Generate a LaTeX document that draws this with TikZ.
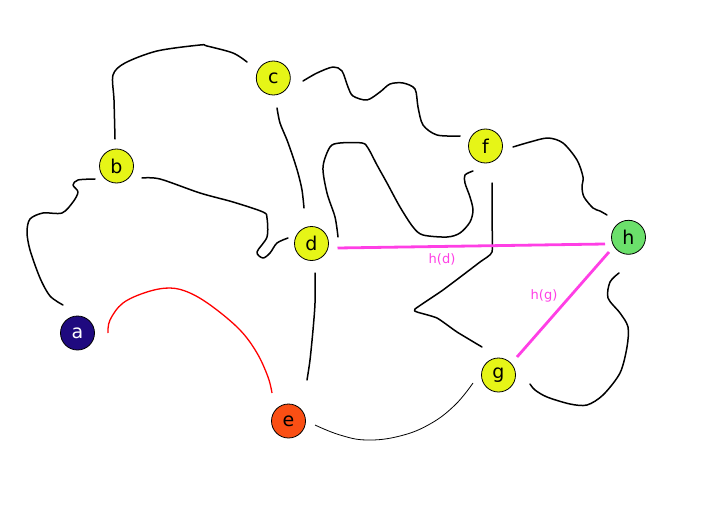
\documentclass[tikz,border=0pt]{standalone}
\usepackage{fontspec}
\setmainfont{DejaVu Sans}
\definecolor{ylw}{HTML}{E6F517}
\definecolor{navy}{HTML}{1F0A7F}
\definecolor{orng}{HTML}{FA4F14}
\definecolor{grn}{HTML}{6BE06B}
\definecolor{mag}{HTML}{FF3FE5}
\begin{document}
\begin{tikzpicture}[x=1pt,y=-1pt,
  vtx/.style={circle,draw=black,line width=0.8pt,minimum size=34pt,inner sep=0pt,fill=ylw,font=\fontsize{19}{19}\selectfont},
  wig/.style={line width=1.5pt,line cap=round,line join=round},
  hl/.style={mag,line width=2.8pt},
  hlab/.style={mag,font=\fontsize{13}{13}\selectfont}]
\useasboundingbox (0,0) rectangle (709,532);
\node[vtx,fill=navy,text=white] (a) at (77.5,333) {a};
\node[vtx] (b) at (116.5,166) {b};
\node[vtx] (c) at (273.3,78) {c};
\node[vtx] (d) at (311.5,243.5) {d};
\node[vtx,fill=orng] (e) at (288.5,421) {e};
\node[vtx] (f) at (485.5,146) {f};
\node[vtx] (g) at (498.5,375) {g};
\node[vtx,fill=grn] (h) at (628.5,237.3) {h};
% b - c
\draw[wig] plot[smooth,tension=0.5] coordinates {(115,139) (114,100) (113,75) (125,63) (157,51) (200,45) (207,46) (233,53) (247,62)};
% a - b
\draw[wig] plot[smooth,tension=0.5] coordinates {(95,179) (78,180) (73,185) (78,192) (73,202) (62,213) (43,213) (30,219) (27,232) (30,250) (40,278) (50,296) (63,305)};
% b - d
\draw[wig] plot[smooth,tension=0.5] coordinates {(142,178) (160,179) (200,193) (233,202) (263,212) (267,218) (267,237) (257,252) (263,258) (270,253) (277,243) (288,238)};
% c - d
\draw[wig] plot[smooth,tension=0.5] coordinates {(277,108) (280,123) (287,140) (293,157) (298,173) (302,190) (304,208)};
% c - f
\draw[wig] plot[smooth,tension=0.5] coordinates {(303,81) (317,73) (333,67) (342,71) (348,87) (353,96) (367,100) (380,92) (390,84) (403,83) (415,89) (418,107) (423,125) (437,135) (460,136)};
% d - f
\draw[wig] plot[smooth,tension=0.5] coordinates {(338,237) (335,217) (327,193) (323,167) (330,147) (340,143) (362,143) (368,148) (377,165) (387,183) (400,207) (413,227) (423,235) (447,237) (460,233) (470,222) (473,210) (470,197) (465,183) (465,175) (473,171)};
% f - g
\draw[wig] plot[smooth,tension=0.3] coordinates {(492,183) (492,220) (492,252) (480,262) (443,290) (415,309) (417,312) (437,318) (457,332) (482,347)};
% f - h
\draw[wig] plot[smooth,tension=0.5] coordinates {(513,147) (530,142) (548,138) (563,143) (577,160) (583,177) (582,187) (584,197) (593,208) (600,211) (607,215)};
% h - g
\draw[wig] plot[smooth,tension=0.5] coordinates {(619,273) (610,282) (608,298) (620,313) (628,327) (627,347) (620,373) (603,395) (587,405) (570,404) (547,397) (535,390) (530,384)};
% d - e
\draw[wig] plot[smooth,tension=0.5] coordinates {(315,273) (315,303) (313,330) (310,360) (307,380)};
% e - g
\draw[line width=0.8pt] plot[smooth,tension=0.7] coordinates {(315,425) (340,435) (367,440) (400,436) (430,424) (455,405) (473,383)};
% a - e
\draw[red,line width=1.3pt] plot[smooth,tension=0.6] coordinates {(108,333) (110,320) (123,303) (147,292) (170,288) (190,293) (213,307) (240,330) (257,353) (268,377) (272,393)};
% heuristic edges
\draw[hl] (337.5,248) -- (605,244);
\node[hlab] (lhd) at (442,259) {h(d)};
\draw[hl] (517,357) -- (609,252);
\node[hlab] (lhg) at (544,296) {h(g)};
\end{tikzpicture}
\end{document}
